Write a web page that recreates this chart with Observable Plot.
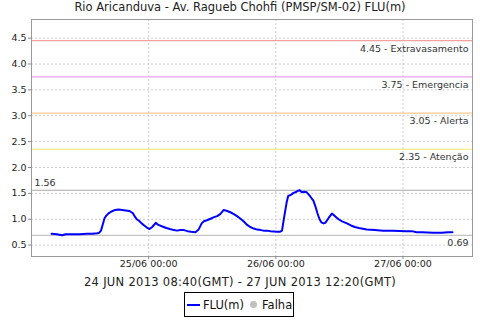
<!DOCTYPE html>
<html>
<head>
<meta charset="utf-8">
<script src="https://cdn.jsdelivr.net/npm/d3@7"></script>
<script src="https://cdn.jsdelivr.net/npm/@observablehq/plot@0.6"></script>
<style>
  html, body { margin: 0; padding: 0; background: #fff; }
  #wrap { position: relative; width: 480px; height: 320px; overflow: hidden; font-family: "DejaVu Sans", sans-serif; }
  #title { position: absolute; left: 0; top: 0; width: 480px; text-align: center; font-size: 11.5px; color: #222; line-height: 14px; }
  #caption { position: absolute; left: 0; top: 274px; width: 480px; text-align: center; font-size: 11.5px; letter-spacing: 0.3px; color: #222; line-height: 16px; }
  #legend { position: absolute; left: 184px; top: 292px; width: 108px; height: 23px; border: 1px solid #000; font-size: 11.5px; color: #111; display: flex; align-items: center; }
  #legend .ln { display: inline-block; width: 13px; height: 2px; background: #0000ff; margin-left: 2px; margin-right: 3px; }
  #legend .dot { display: inline-block; width: 7px; height: 7px; border-radius: 50%; background: #c0c0c0; margin-left: 6px; margin-right: 5px; }
  #chart { position: absolute; left: 0; top: 0; }
</style>
</head>
<body>
<div id="wrap">
  <div id="chart"></div>
  <div id="title">Rio Aricanduva - Av. Ragueb Chohfi (PMSP/SM-02) FLU(m)</div>
  <div id="caption">24 JUN 2013 08:40(GMT) - 27 JUN 2013 12:20(GMT)</div>
  <div id="legend"><span class="ln"></span>FLU(m)<span class="dot"></span>Falha</div>
</div>
<script>
// Times are local (GMT-3) readings as shown on the axis
const times = [
  "2013-06-24T05:40","2013-06-24T06:40","2013-06-24T07:40","2013-06-24T08:20","2013-06-24T09:40",
  "2013-06-24T11:00","2013-06-24T12:20","2013-06-24T13:20","2013-06-24T14:20","2013-06-24T14:40",
  "2013-06-24T15:00","2013-06-24T15:20","2013-06-24T15:40","2013-06-24T16:00","2013-06-24T16:30",
  "2013-06-24T17:00","2013-06-24T17:40","2013-06-24T18:20","2013-06-24T19:00","2013-06-24T19:40",
  "2013-06-24T20:20","2013-06-24T20:40","2013-06-24T21:00","2013-06-24T21:20","2013-06-24T21:45",
  "2013-06-24T22:10","2013-06-24T22:40","2013-06-24T23:10","2013-06-24T23:40",
  "2013-06-25T00:10","2013-06-25T00:40","2013-06-25T01:20","2013-06-25T01:50","2013-06-25T02:35",
  "2013-06-25T03:20","2013-06-25T04:00","2013-06-25T04:45","2013-06-25T05:20","2013-06-25T06:00",
  "2013-06-25T06:40","2013-06-25T07:20","2013-06-25T08:00","2013-06-25T08:50","2013-06-25T09:25",
  "2013-06-25T10:00","2013-06-25T10:25","2013-06-25T11:00","2013-06-25T11:40","2013-06-25T12:20",
  "2013-06-25T12:55","2013-06-25T13:30","2013-06-25T14:10","2013-06-25T14:50","2013-06-25T15:30",
  "2013-06-25T16:05","2013-06-25T16:40","2013-06-25T17:20","2013-06-25T18:00","2013-06-25T18:35",
  "2013-06-25T19:10","2013-06-25T19:50","2013-06-25T20:30","2013-06-25T21:10","2013-06-25T21:40",
  "2013-06-25T22:20","2013-06-25T23:00",
  "2013-06-26T00:15","2013-06-26T00:50","2013-06-26T01:10","2013-06-26T01:35","2013-06-26T02:05",
  "2013-06-26T02:20","2013-06-26T02:50","2013-06-26T03:20","2013-06-26T03:40","2013-06-26T04:10",
  "2013-06-26T04:30","2013-06-26T04:55","2013-06-26T05:20","2013-06-26T05:50","2013-06-26T06:30",
  "2013-06-26T07:05","2013-06-26T07:30","2013-06-26T07:50","2013-06-26T08:15","2013-06-26T08:35",
  "2013-06-26T09:00","2013-06-26T09:20","2013-06-26T10:00","2013-06-26T10:35","2013-06-26T11:10",
  "2013-06-26T11:50","2013-06-26T12:30","2013-06-26T13:25","2013-06-26T14:10","2013-06-26T14:55",
  "2013-06-26T15:40","2013-06-26T17:10","2013-06-26T18:40","2013-06-26T20:15","2013-06-26T22:00",
  "2013-06-27T00:40","2013-06-27T01:40","2013-06-27T02:35","2013-06-27T03:40","2013-06-27T05:40",
  "2013-06-27T07:20","2013-06-27T08:30","2013-06-27T09:20"
];
const flu = [
  0.72,0.71,0.69,0.71,0.71,
  0.71,0.72,0.72,0.73,0.74,
  0.78,0.90,1.02,1.07,1.12,
  1.15,1.18,1.19,1.18,1.17,
  1.16,1.14,1.12,1.06,1.00,
  0.97,0.92,0.88,0.84,
  0.81,0.85,0.93,0.89,0.86,
  0.83,0.81,0.79,0.78,0.79,
  0.79,0.77,0.76,0.75,0.80,
  0.92,0.96,0.98,1.01,1.04,
  1.06,1.10,1.18,1.16,1.13,
  1.10,1.06,1.01,0.95,0.89,
  0.85,0.82,0.80,0.79,0.78,
  0.78,0.77,
  0.76,0.76,0.78,1.05,1.35,
  1.45,1.47,1.51,1.52,1.55,
  1.56,1.52,1.53,1.52,1.44,
  1.36,1.24,1.12,1.00,0.94,
  0.92,0.93,1.03,1.11,1.06,
  1.00,0.96,0.92,0.88,0.85,
  0.83,0.80,0.79,0.78,0.78,
  0.77,0.77,0.75,0.75,0.74,
  0.74,0.75,0.75
];
// Reference levels
const levelValues = [4.45, 3.75, 3.05, 2.35];
const levelNames = ["Extravasamento", "Emergencia", "Alerta", "Atenção"];
const levelColors = ["#f2a0a0", "#eea0f0", "#fcc890", "#fbee80"];
const maxValue = 1.56;
const minValue = 0.69;
const yTicks = [0.5, 1.0, 1.5, 2.0, 2.5, 3.0, 3.5, 4.0, 4.5];
const xTicks = ["2013-06-25T00:00", "2013-06-26T00:00", "2013-06-27T00:00"];

const parse = s => new Date(s + "Z");
const data = times.map((t, i) => ({t: parse(t), v: flu[i]}));
const levels = levelValues.map((v, i) => ({v, label: v.toFixed(2) + " - " + levelNames[i], color: levelColors[i]}));

const chart = Plot.plot({
  width: 480,
  height: 320,
  marginLeft: 31,
  marginRight: 8,
  marginTop: 19,
  marginBottom: 64,
  style: {fontFamily: "DejaVu Sans, sans-serif", fontSize: "9.5px", color: "#222", background: "transparent"},
  x: {type: "utc", domain: [parse("2013-06-24T01:53"), parse("2013-06-27T13:07")], label: null},
  y: {domain: [0.28, 4.86], label: null},
  marks: [
    Plot.gridY(yTicks, {stroke: "#cccccc", strokeOpacity: 1, strokeDasharray: "2,2"}),
    Plot.gridX(xTicks.map(parse), {stroke: "#cccccc", strokeOpacity: 1, strokeDasharray: "2,2"}),
    Plot.ruleY(levels, {y: "v", stroke: "color", strokeWidth: 1.3}),
    Plot.text(levels, {y: "v", text: "label", frameAnchor: "right", textAnchor: "end", dx: -4, dy: 8, fill: "#333", fontSize: 9.5, style: "letter-spacing:0.5px"}),
    Plot.ruleY([maxValue], {stroke: "#a8a8a8", strokeWidth: 1.2}),
    Plot.text([maxValue], {y: d => d, text: d => d.toFixed(2), frameAnchor: "left", textAnchor: "start", dx: 3, dy: -7, fill: "#333", fontSize: 9.5, style: "letter-spacing:0.5px"}),
    Plot.ruleY([minValue], {stroke: "#c4c4c4", strokeWidth: 1.2}),
    Plot.text([minValue], {y: d => d, text: d => d.toFixed(2), frameAnchor: "right", textAnchor: "end", dx: -4, dy: 8, fill: "#333", fontSize: 9.5, style: "letter-spacing:0.5px"}),
    Plot.line(data, {x: "t", y: "v", stroke: "#0000ff", strokeWidth: 2}),
    Plot.frame({stroke: "#9a9a9a"}),
    Plot.axisX({ticks: xTicks.map(parse), tickFormat: d3.utcFormat("%d/%m %H:%M"), tickSize: 3, tickPadding: 1, stroke: "#888", fill: "#222"}),
    Plot.axisY({ticks: yTicks, tickFormat: d => d.toFixed(1), tickSize: 3, tickPadding: 2, stroke: "#888", fill: "#222"})
  ]
});
document.getElementById("chart").appendChild(chart);
</script>
</body>
</html>
